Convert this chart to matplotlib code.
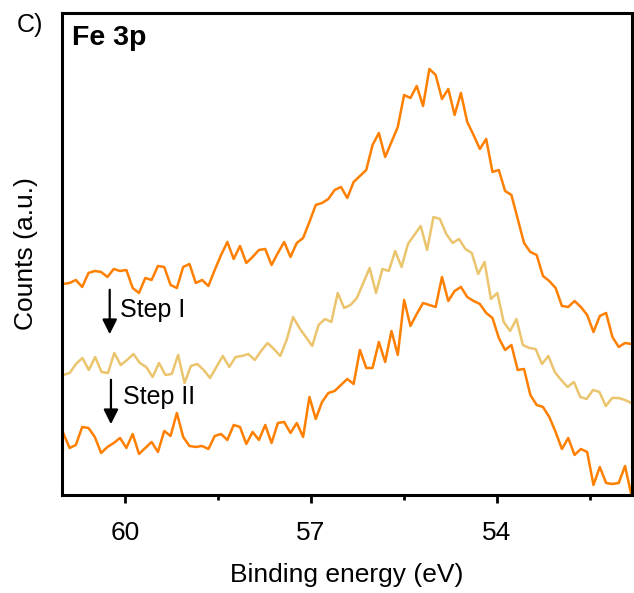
import numpy as np
import matplotlib.pyplot as plt

plt.rcParams['font.family'] = ['Liberation Sans', 'DejaVu Sans']

# Fe 3p, cuentas (u.a.)
fe3p_inicial = [211, 212, 215, 208, 222, 224, 223, 218, 226, 224, 225, 207, 202, 217, 215, 229, 228, 210, 207, 228, 231, 212, 215,
                209, 225, 240, 253, 236, 249, 232, 238, 245, 246, 230, 242, 253, 238, 252, 257, 273, 290, 292, 296, 305, 308,
                297, 313, 319, 325, 350, 362, 338, 353, 368, 400, 397, 409, 389, 426, 420, 396, 406, 380, 402, 373, 360, 346,
                356, 323, 325, 304, 300, 276, 252, 243, 240, 219, 214, 207, 189, 188, 194, 188, 180, 163, 179, 182, 158, 148, 152, 151]
fe3p_step1 = [120, 122, 131, 137, 125, 138, 123, 122, 142, 130, 135, 141, 132, 128, 118, 132, 120, 121, 140, 112, 129, 131, 125,
              117, 128, 139, 128, 138, 139, 141, 135, 144, 152, 146, 139, 155, 178, 167, 158, 149, 170, 176, 173, 202, 187,
              190, 197, 212, 227, 202, 226, 224, 244, 228, 251, 260, 269, 245, 278, 276, 261, 252, 256, 246, 242, 221, 233,
              196, 202, 173, 164, 176, 150, 147, 146, 131, 139, 123, 115, 108, 113, 98, 96, 105, 103, 89, 97, 97, 95, 92]
fe3p_step2 = [62, 47, 50, 68, 67, 58, 42, 48, 52, 57, 47, 61, 41, 47, 53, 43, 64, 59, 82, 58, 49, 48, 49, 46,
              59, 61, 55, 70, 68, 51, 63, 55, 70, 52, 72, 73, 62, 72, 58, 98, 76, 93, 102, 104, 110, 116,
              111, 145, 127, 127, 153, 133, 164, 140, 195, 169, 181, 192, 190, 188, 218, 194, 204, 208, 198, 194, 191, 182,
              177, 157, 145, 150, 125, 126, 100, 90, 88, 78, 63, 46, 57, 40, 46, 43, 10, 28, 12, 11, 12, 29, 0]

be_ini, be_fin = 61.0, 51.83
naranja = '#ff7f00'
dorado = '#ebc46e'

fig = plt.figure(figsize=(6.34, 5.93), dpi=100)
ax = fig.add_axes([0.0978, 0.1653, 0.899, 0.8128])

for datos, color in [(fe3p_inicial, naranja), (fe3p_step1, dorado), (fe3p_step2, naranja)]:
    be = np.linspace(be_ini, be_fin, len(datos))
    ax.plot(be, datos, color=color, linewidth=1.8)

ax.set_xlim(61.02, 51.82)
ax.set_ylim(0, 482)
ax.set_xticks([60, 57, 54])
ax.set_xticks([58.5, 55.5, 52.5], minor=True)
ax.set_yticks([])
ax.tick_params(axis='x', which='major', direction='out', length=5.5, width=2, labelsize=19, pad=13)
ax.tick_params(axis='x', which='minor', direction='out', length=3.5, width=2)
for s in ax.spines.values():
    s.set_linewidth(2.2)

ax.set_xlabel('Binding energy (eV)', fontsize=19, labelpad=13)
ax.set_ylabel('Counts (a.u.)', fontsize=19, labelpad=17)

ax.text(0.0175, 0.948, 'Fe 3p', transform=ax.transAxes, fontsize=20.5, fontweight='bold', va='center', ha='left')
fig.text(0.027, 0.958, 'C)', fontsize=18, va='center', ha='left')

# flechas de los pasos
ax.annotate('', xy=(60.25, 158), xytext=(60.25, 208),
            arrowprops=dict(arrowstyle='-|>', color='black', lw=1.6, mutation_scale=22))
ax.annotate('', xy=(60.23, 68), xytext=(60.23, 118),
            arrowprops=dict(arrowstyle='-|>', color='black', lw=1.6, mutation_scale=22))
ax.text(60.08, 185, 'Step I', fontsize=18, va='center', ha='left')
ax.text(60.03, 98, 'Step II', fontsize=18, va='center', ha='left')

plt.savefig('out.png', dpi=100)
